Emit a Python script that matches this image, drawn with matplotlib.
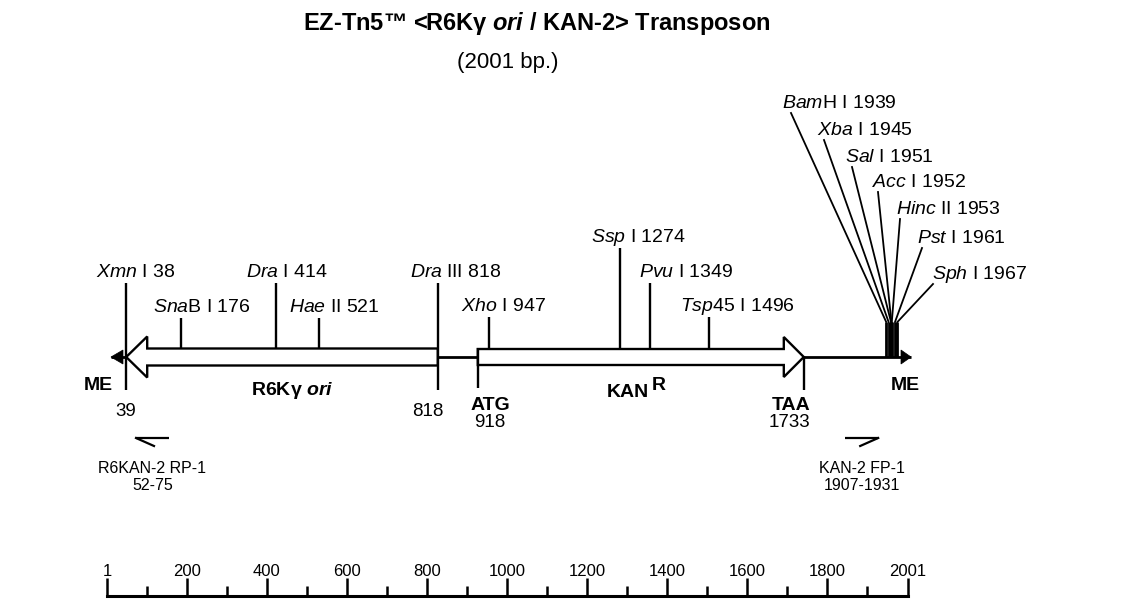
import matplotlib
matplotlib.use('Agg')
import matplotlib.pyplot as plt
from matplotlib.patches import FancyArrow, Polygon

plt.rcParams['font.family'] = ['Liberation Sans', 'DejaVu Sans']
plt.rcParams['mathtext.fontset'] = 'custom'
plt.rcParams['mathtext.rm'] = 'Liberation Sans'
plt.rcParams['mathtext.it'] = 'Liberation Sans:italic'
plt.rcParams['mathtext.bf'] = 'Liberation Sans:bold'
plt.rcParams['mathtext.bfit'] = 'Liberation Sans:bold:italic'

# transposon length (bp)
total_len = 2001

# single restriction sites
site_names = [r'$\mathit{Xmn}$ I', r'$\mathit{Sna}$B I', r'$\mathit{Dra}$ I', r'$\mathit{Hae}$ II',
              r'$\mathit{Dra}$ III', r'$\mathit{Xho}$ I', r'$\mathit{Ssp}$ I', r'$\mathit{Pvu}$ I',
              r'$\mathit{Tsp}$45 I']
site_pos = [38, 176, 414, 521, 818, 947, 1274, 1349, 1496]

# polylinker sites next to the right ME
mcs_names = [r'$\mathit{Bam}$H I', r'$\mathit{Xba}$ I', r'$\mathit{Sal}$ I', r'$\mathit{Acc}$ I',
             r'$\mathit{Hinc}$ II', r'$\mathit{Pst}$ I', r'$\mathit{Sph}$ I']
mcs_pos = [1939, 1945, 1951, 1952, 1953, 1961, 1967]

# features
ori_start, ori_end = 818, 39
kan_start, kan_end = 918, 1733

# primers
primer_names = ['R6KAN-2 RP-1', 'KAN-2 FP-1']
primer_start = [52, 1907]
primer_end = [75, 1931]
primer_dir = [-1, 1]

# ruler
ruler_labels = [1, 200, 400, 600, 800, 1000, 1200, 1400, 1600, 1800, 2001]
ruler_minor = [100, 300, 500, 700, 900, 1100, 1300, 1500, 1700, 1900]

# ---- layout (pixels) ----
W, H = 1140, 614
PX = 0.4          # pixels per bp on the map
X0 = 111          # pixel of bp 1 on the map
YL = 357          # backbone
site_top = [283, 318, 283, 318, 283, 317, 248, 283, 317]
site_bot = [390, 348, 348, 348, 390, 348, 348, 348, 348]
site_dx = [-30, -28, -30, -30, -28, -28, -29, -11, -29]
mcs_lab_x = [782, 817, 845, 872, 896, 917, 932]
mcs_lab_y = [108, 135, 162, 187, 214, 243, 279]
mcs_end_dx = [9, 7, 7, 6, 4, 5, 1]

fs_site = 14
fs_bold = 14
fs_num = 13.5


def bp(px):
    return 1 + (px - X0) / PX


fig = plt.figure(figsize=(W / 100, H / 100), dpi=100)
lay = fig.add_axes([0, 0, 1, 1])
lay.set_xlim(0, W)
lay.set_ylim(H, 0)
lay.axis('off')

ax = fig.add_axes([0, 0, 1, 1])
ax.set_xlim(bp(0), bp(W))
ax.set_ylim(H, 0)
ax.axis('off')

lw = 1.7

# title
lay.text(537, 30, r'EZ-Tn5™ <R6Kγ $\mathbfit{ori}$ / KAN-2> Transposon', ha='center',
         va='baseline', fontsize=17, fontweight='bold')
lay.text(508, 68, '(2001 bp.)', ha='center', va='baseline', fontsize=16)

# backbone and ME ends
ax.plot([1, total_len], [YL, YL], color='black', lw=2, solid_capstyle='butt', zorder=1)
ax.add_patch(Polygon([(1, YL), (1 + 12 / PX, YL - 7), (1 + 12 / PX, YL + 7)],
                     closed=True, fc='black', ec='black', lw=0.5, zorder=3))
ax.add_patch(Polygon([(total_len, YL), (total_len - 10 / PX, YL - 7), (total_len - 10 / PX, YL + 7)],
                     closed=True, fc='black', ec='black', lw=0.5, zorder=3))
ax.text(bp(98), 390, 'ME', ha='center', va='baseline', fontsize=fs_bold, fontweight='bold')
ax.text(bp(905), 390, 'ME', ha='center', va='baseline', fontsize=fs_bold, fontweight='bold')

# ori and KAN arrows
ax.add_patch(FancyArrow(ori_start, YL, ori_end - ori_start, 0, width=17, head_width=41,
                        head_length=21 / PX, length_includes_head=True,
                        fc='white', ec='black', lw=lw, zorder=2))
ax.add_patch(FancyArrow(kan_start, YL, kan_end - kan_start, 0, width=16, head_width=40,
                        head_length=20 / PX, length_includes_head=True,
                        fc='white', ec='black', lw=lw, zorder=2))
ax.text(bp(292), 395, r'R6Kγ $\mathbfit{ori}$', ha='center', va='baseline',
        fontsize=fs_bold, fontweight='bold')
ax.text(bp(628), 397, 'KAN', ha='center', va='baseline', fontsize=fs_bold, fontweight='bold')
ax.text(bp(659), 390, 'R', ha='center', va='baseline', fontsize=fs_bold, fontweight='bold')

# feature boundaries
ax.vlines([kan_start], 348, 388, color='black', lw=lw, zorder=4)
ax.vlines([kan_end], YL, 390, color='black', lw=lw, zorder=4)
ax.text(ori_end, 416, str(ori_end), ha='center', va='baseline', fontsize=fs_num)
ax.text(ori_start - 10 / PX, 416, str(ori_start), ha='center', va='baseline', fontsize=fs_num)
ax.text(kan_start + 13 / PX, 410, 'ATG', ha='center', va='baseline', fontsize=fs_bold, fontweight='bold')
ax.text(kan_start + 12 / PX, 427, str(kan_start), ha='center', va='baseline', fontsize=fs_num)
ax.text(kan_end - 13 / PX, 410, 'TAA', ha='center', va='baseline', fontsize=fs_bold, fontweight='bold')
ax.text(kan_end - 14 / PX, 427, str(kan_end), ha='center', va='baseline', fontsize=fs_num)

# single sites
ax.vlines(site_pos, site_top, site_bot, color='black', lw=lw, zorder=4)
for name, pos, top, dx in zip(site_names, site_pos, site_top, site_dx):
    ax.text(pos + dx / PX, top - 6, f'{name} {pos}', ha='left', va='baseline', fontsize=fs_site)

# polylinker fan
ax.vlines(mcs_pos, 322, YL, color='black', lw=lw + 0.3, zorder=4)
for name, pos, lx, ly, ex in zip(mcs_names, mcs_pos, mcs_lab_x, mcs_lab_y, mcs_end_dx):
    ax.plot([pos, bp(lx + ex)], [322, ly + 5], color='black', lw=1.3, zorder=4)
    ax.text(bp(lx), ly, f'{name} {pos}', ha='left', va='baseline', fontsize=fs_site)

# primers (half arrows)
yp = 438
for name, s, e, d in zip(primer_names, primer_start, primer_end, primer_dir):
    tip = (s + e) / 2
    tail = tip - d * 33 / PX
    ax.plot([tail, tip], [yp, yp], color='black', lw=1.6, solid_capstyle='butt')
    ax.plot([tip, tip - d * 18 / PX], [yp, yp + 8], color='black', lw=1.6)
    xc = (tip + tail) / 2
    ax.text(xc, 473, name, ha='center', va='baseline', fontsize=11.5)
    ax.text(xc, 490, f'{s}-{e}', ha='center', va='baseline', fontsize=11.5)

# ruler
rx0, rx1 = 107.3, 907.7
rax = fig.add_axes([rx0 / W, (H - 596) / H, (rx1 - rx0) / W, 13 / H])
rax.set_xlim(1, total_len)
rax.set_ylim(0, 1)
rax.patch.set_visible(False)
for sp in ['top', 'left', 'right']:
    rax.spines[sp].set_visible(False)
rax.spines['bottom'].set_linewidth(2.2)
rax.set_yticks([])
rax.set_xticks(ruler_labels)
rax.set_xticklabels([str(v) for v in ruler_labels])
rax.set_xticks(ruler_minor, minor=True)
rax.tick_params(axis='x', which='major', direction='in', length=13, width=1.8,
                labelbottom=False, labeltop=True, bottom=True, top=False, pad=3, labelsize=12)
rax.tick_params(axis='x', which='minor', direction='in', length=7, width=1.8,
                bottom=True, top=False)

fig.savefig('out.png', dpi=100)
